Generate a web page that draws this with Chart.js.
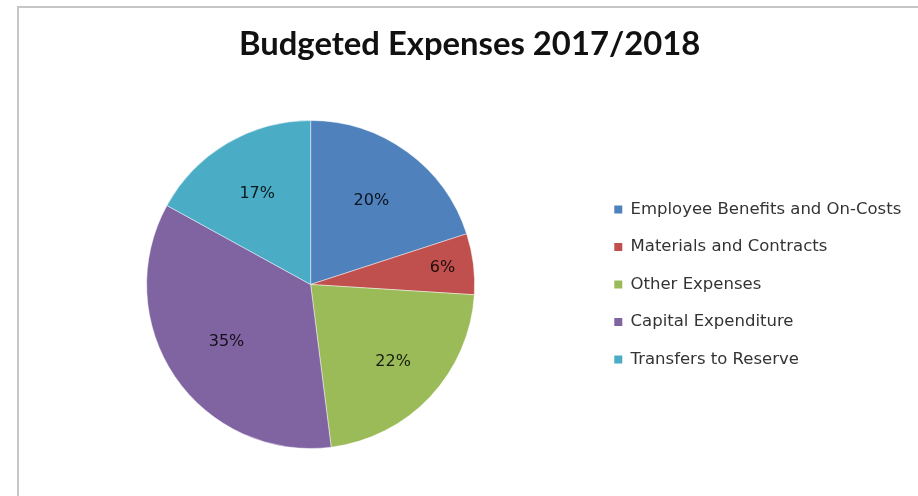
<!DOCTYPE html>
<html>
<head>
<meta charset="utf-8">
<script src="https://cdn.jsdelivr.net/npm/chart.js@4/dist/chart.umd.min.js"></script>
<style>
  html, body { margin: 0; padding: 0; background: #fff; overflow: hidden; }
  #wrap { position: relative; width: 918px; height: 496px; }
  #frame {
    position: absolute; left: 17px; top: 6px; right: -4px; bottom: -4px;
    border-left: 2px solid #c6c6c6; border-top: 2px solid #c6c6c6;
  }
  canvas { position: absolute; left: 0; top: 0; }
</style>
</head>
<body>
<div id="wrap">
  <div id="frame"></div>
  <canvas id="chart" width="918" height="496"></canvas>
</div>
<script>
// Budget split by expense type, in percent of total
const categories = [
  'Employee Benefits and On-Costs',
  'Materials and Contracts',
  'Other Expenses',
  'Capital Expenditure',
  'Transfers to Reserve'
];
const shares = [20, 6, 22, 35, 17];
const sliceColors = ['#4F81BD', '#C0504D', '#9BBB59', '#8064A2', '#4BACC6'];
const chartTitle = 'Budgeted Expenses 2017/2018';

// Writes "NN%" inside each slice
const sliceValueLabels = {
  id: 'sliceValueLabels',
  afterDatasetsDraw(chart, args, opts) {
    const ctx = chart.ctx;
    const meta = chart.getDatasetMeta(0);
    const values = chart.data.datasets[0].data;
    ctx.save();
    ctx.font = opts.font;
    ctx.fillStyle = opts.color;
    ctx.textAlign = 'center';
    ctx.textBaseline = 'middle';
    meta.data.forEach((arc, i) => {
      const p = arc.getProps(['x', 'y', 'startAngle', 'endAngle', 'outerRadius'], true);
      const mid = (p.startAngle + p.endAngle) / 2;
      const r = p.outerRadius * opts.radiusFactors[i];
      ctx.fillText(values[i] + '%', p.x + Math.cos(mid) * r, p.y + Math.sin(mid) * r);
    });
    ctx.restore();
  }
};

const baseLabels = Chart.overrides.pie.plugins.legend.labels.generateLabels;

new Chart(document.getElementById('chart'), {
  type: 'pie',
  data: {
    labels: categories,
    datasets: [{
      data: shares,
      backgroundColor: sliceColors,
      borderColor: 'rgba(255,255,255,0.45)',
      borderWidth: 1,
      radius: 164
    }]
  },
  options: {
    responsive: false,
    animation: false,
    layout: { padding: { left: 28, right: 6.75, top: 0, bottom: 0 } },
    plugins: {
      title: {
        display: true,
        text: chartTitle,
        color: '#111111',
        font: { family: 'Lato', weight: 'bold', size: 32.8, lineHeight: 1.2 },
        padding: { top: 24.5, bottom: 9.1 }
      },
      legend: {
        position: 'right',
        fullSize: false,
        labels: {
          color: '#333333',
          font: { family: 'DejaVu Sans', size: 16.5 },
          boxWidth: 8,
          boxHeight: 8,
          padding: 21,
          generateLabels(chart) {
            return baseLabels(chart).map(item => Object.assign(item, { lineWidth: 0 }));
          }
        }
      },
      tooltip: { enabled: false },
      sliceValueLabels: {
        font: '16px "DejaVu Sans"',
        color: 'rgba(0,0,0,0.85)',
        radiusFactors: [0.63, 0.81, 0.69, 0.62, 0.64]
      }
    }
  },
  plugins: [sliceValueLabels]
});
</script>
</body>
</html>
